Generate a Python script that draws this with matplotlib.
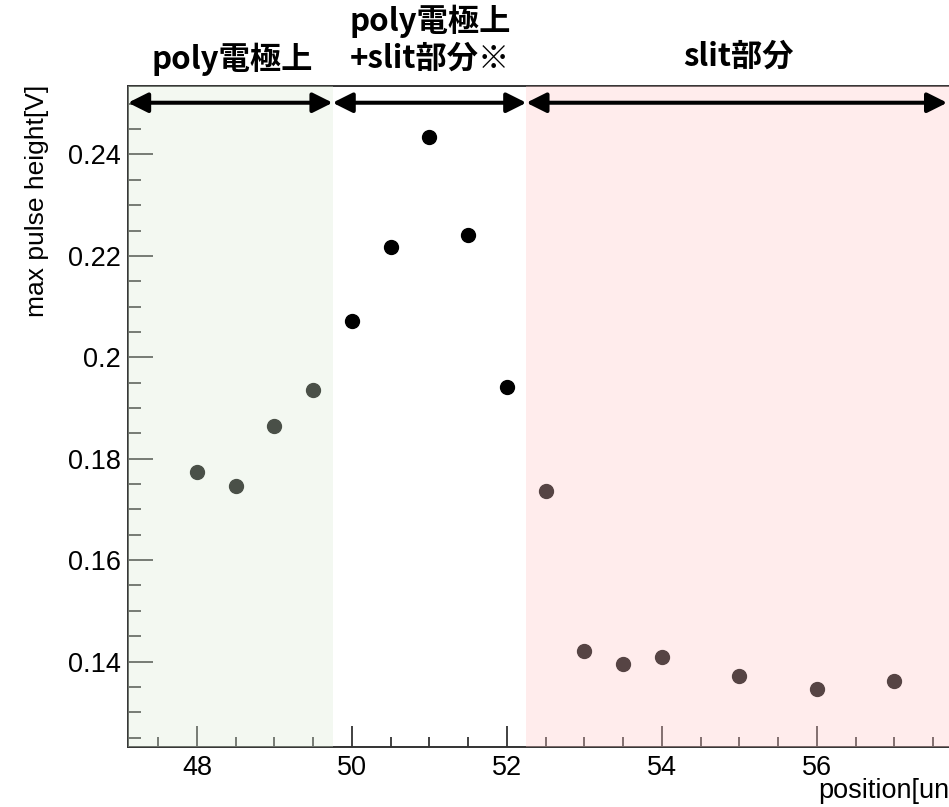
import numpy as np
import matplotlib
matplotlib.use("Agg")
import matplotlib.pyplot as plt
from matplotlib.ticker import MultipleLocator, FuncFormatter

plt.rcParams['font.family'] = ['Liberation Sans', 'Noto Sans CJK JP', 'DejaVu Sans']

# scan positions and measured maximum pulse heights
position = [48, 48.5, 49, 49.5, 50, 50.5, 51, 51.5, 52,
            52.5, 53, 53.5, 54, 55, 56, 57]
max_pulse = [0.1774, 0.1747, 0.1865, 0.1936, 0.2071, 0.2218, 0.2434, 0.2242, 0.1941,
             0.1736, 0.1421, 0.1395, 0.1409, 0.1372, 0.1345, 0.1362]

# region boundaries along the scan (poly electrode / poly+slit / slit)
region_edges = [47.11, 49.75, 52.25, 57.68]
region_labels = ["poly電極上", "poly電極上\n+slit部分※", "slit部分"]
region_colors = ["#dcedd6", None, "#ffc8c8"]

xlim = (47.11, 57.8)
ylim = (0.1232, 0.2535)

W, H = 949, 807
fig = plt.figure(figsize=(W / 100, H / 100), dpi=100)
ax_left, ax_bottom, ax_top = 128, 60.3, 86
ppu = 77.5
ax_w = (xlim[1] - xlim[0]) * ppu
ax = fig.add_axes([ax_left / W, ax_bottom / H, ax_w / W, (H - ax_top - ax_bottom) / H])
ax.set_xlim(*xlim)
ax.set_ylim(*ylim)

ax.plot(position, max_pulse, linestyle='none', marker='o', ms=10, color='black',
        zorder=2, clip_on=False)

# translucent region shading laid over the data and frame
for (x0, x1), c in zip(zip(region_edges[:-1], region_edges[1:]), region_colors):
    if c is None:
        continue
    right = x1 if x1 < region_edges[-1] else xlim[1]
    ax.axvspan(x0, right, color=c, alpha=0.34, lw=0, zorder=3)

# double-headed arrows spanning each region
arrow_y = 0.2502
for x0, x1 in zip(region_edges[:-1], region_edges[1:]):
    ax.annotate('', xy=(x1, arrow_y), xytext=(x0, arrow_y),
                arrowprops=dict(arrowstyle='<|-|>,head_length=0.6,head_width=0.3',
                                mutation_scale=20, lw=2.9, color='black',
                                shrinkA=0, shrinkB=0),
                annotation_clip=False, zorder=5)

frame_col = '#333333'
for s in ['left', 'bottom', 'top']:
    ax.spines[s].set_color(frame_col)
    ax.spines[s].set_linewidth(1.4)
ax.spines['right'].set_visible(False)

ax.xaxis.set_major_locator(MultipleLocator(2))
ax.xaxis.set_minor_locator(MultipleLocator(0.5))
ax.yaxis.set_major_locator(MultipleLocator(0.02))
ax.yaxis.set_minor_locator(MultipleLocator(0.005))
ax.yaxis.set_major_formatter(FuncFormatter(lambda v, p: '%g' % round(v, 4)))
ax.xaxis.set_major_formatter(FuncFormatter(lambda v, p: '%g' % round(v, 4)))

ax.tick_params(axis='x', which='major', direction='in', length=14.9, width=1.3,
               color=frame_col, labelsize=19.5, pad=6, top=False)
ax.tick_params(axis='x', which='minor', direction='in', length=7.2, width=1.3,
               color=frame_col, top=False)
ax.tick_params(axis='y', which='major', direction='in', length=18, width=1.3,
               color=frame_col, labelsize=19.5, pad=5, right=False)
ax.tick_params(axis='y', which='minor', direction='in', length=9, width=1.3,
               color=frame_col, right=False)

def px(x, y):
    return x / W, 1 - y / H

fig.text(*px(37, 85), "max pulse height[V]", rotation=90, ha='center', va='top',
         fontsize=19, color='black')
fig.text(*px(818, 791), "position[unit]", ha='left', va='center',
         fontsize=19.5, color='black')

title_kw = dict(ha='center', va='center', fontsize=22.5, fontweight='bold',
                family=['Noto Sans CJK JP', 'DejaVu Sans'], linespacing=1.2)
fig.text(*px(232, 59), region_labels[0], **title_kw)
fig.text(*px(430, 40), region_labels[1], **title_kw)
fig.text(*px(738, 57), region_labels[2], **title_kw)

fig.savefig("out.png", dpi=100)
